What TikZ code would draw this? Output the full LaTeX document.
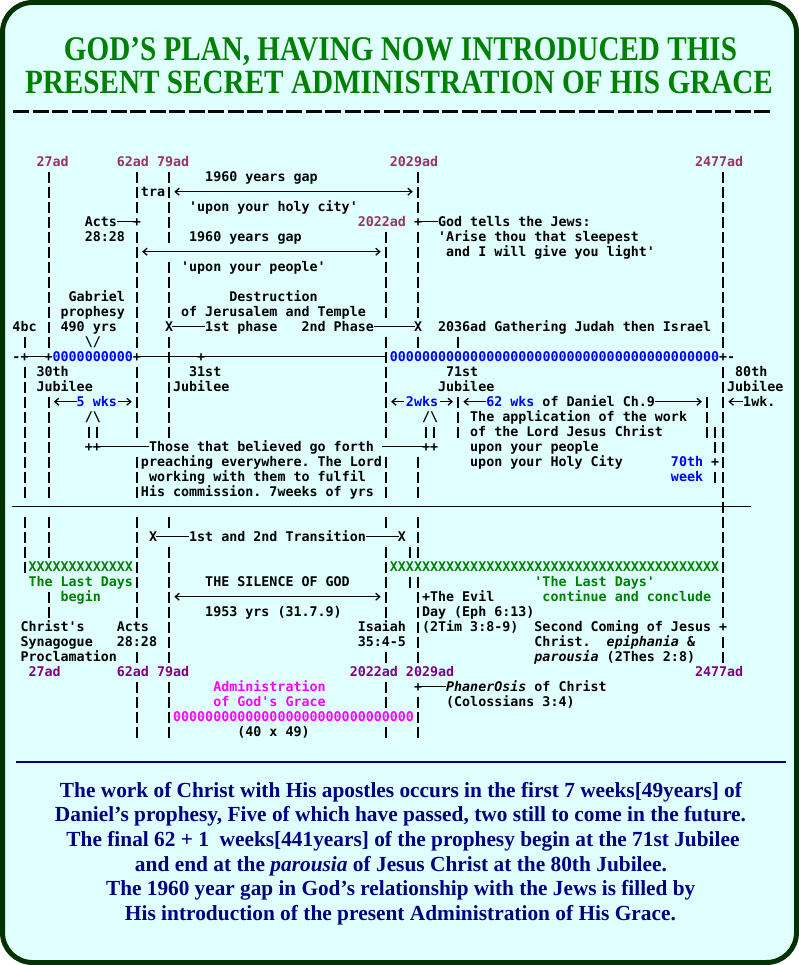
\documentclass[tikz,border=0pt]{standalone}
\usepackage{fontspec}
\usepackage{graphicx}
\usetikzlibrary{arrows.meta}
\newfontfamily\artfont{DejaVu Sans Mono}[WordSpace={1,0,0}]
\newfontfamily\serifb{Liberation Serif}
\definecolor{dtop}{HTML}{993366}
\definecolor{dbot}{HTML}{800080}
\definecolor{abl}{HTML}{0000FF}
\definecolor{agr}{HTML}{008000}
\definecolor{amg}{HTML}{FF00FF}
\definecolor{nav}{HTML}{000080}
\definecolor{frm}{HTML}{003300}
\definecolor{bgc}{HTML}{E0FFFF}
\definecolor{ttl}{HTML}{008000}
\newcommand\artfnt{\artfont\bfseries\fontsize{13.34pt}{15pt}\selectfont\frenchspacing}
\newcommand\botfont{\serifb\bfseries\fontsize{21.5pt}{24pt}\selectfont}
\newcommand\ttlfont{\serifb\bfseries\fontsize{33pt}{36pt}\selectfont}
\newcount\artcnt
\newcommand\ArtT[4][black]{\global\advance\artcnt by 1\relax
  \node[art,text=#1] (t\the\artcnt) at ({12.5+8.03*(#2)},{166.5+15*(#3)}) {#4};}
\newcommand\ArtV[3]{\draw[vbar] ({12.5+8.03*(#1+0.5)},{156.7+15*(#2)}) -- ({12.5+8.03*(#1+0.5)},{167.7+15*(#3)});}
\newcommand\ArtH[4][]{\draw[hl,#1] ({12.5+8.03*(#2)},{161.7+15*(#4)}) -- ({12.5+8.03*(#3)},{161.7+15*(#4)});}
\tikzset{
  art/.style={anchor=base west,inner sep=0pt,outer sep=0pt,font=\artfnt},
  vbar/.style={line width=2pt,dash pattern=on 11pt off 4pt},
  hl/.style={line width=1.3pt},
  >={Straight Barb[length=4pt,width=7pt]}
}
\begin{document}
\begin{tikzpicture}[x=1pt,y=-1pt]
\useasboundingbox (0,0) rectangle (799,965);
\fill[white] (0,0) rectangle (799,965);
\draw[line width=5pt,draw=frm,fill=bgc,rounded corners=30pt] (2.5,2.5) rectangle (796.5,962.5);
% title
\node[anchor=base,text=ttl,inner sep=0pt] (title1) at (400.5,61) {\resizebox{673pt}{23pt}{\ttlfont GOD’S PLAN, HAVING NOW INTRODUCED THIS}};
\node[anchor=base,text=ttl,inner sep=0pt] (title2) at (399,94) {\resizebox{748pt}{22.5pt}{\ttlfont PRESENT SECRET ADMINISTRATION OF HIS GRACE}};
\draw[line width=3pt,dash pattern=on 16pt off 3.5pt] (13,112) -- (773,112);
% ---- art
% row 0
\ArtT[dtop]{3}{0}{27ad}\ArtT[dtop]{13}{0}{62ad}\ArtT[dtop]{18}{0}{79ad}\ArtT[dtop]{47}{0}{2029ad}\ArtT[dtop]{85}{0}{2477ad}
\ArtT{24}{1}{1960 years gap}
\ArtT{16}{2}{tra}\ArtH[<->]{20.15}{49.85}{2}
\ArtT{22}{3}{'upon your holy city'}
\ArtT{9}{4}{Acts}\ArtH{13}{15.5}{4}\ArtT{15}{4}{+}\ArtT[dtop]{43}{4}{2022ad}\ArtT{50}{4}{+}\ArtH{50.5}{53}{4}\ArtT{53}{4}{God tells the Jews:}
\ArtT{9}{5}{28:28}\ArtT{22}{5}{1960 years gap}\ArtT{53}{5}{'Arise thou that sleepest}
\ArtH[<->]{16.15}{45.85}{6}\ArtT{54}{6}{and I will give you light'}
\ArtT{21}{7}{'upon your people'}
\ArtT{7}{9}{Gabriel}\ArtT{27}{9}{Destruction}
\ArtT{6}{10}{prophesy}\ArtT{21}{10}{of Jerusalem and Temple}
\ArtT{0}{11}{4bc}\ArtT{6}{11}{490 yrs}\ArtT{19}{11}{X}\ArtH{19.85}{24}{11}\ArtT{24}{11}{1st phase}\ArtT{36}{11}{2nd Phase}\ArtH{45}{50.15}{11}\ArtT{50}{11}{X}\ArtT{53}{11}{2036ad Gathering Judah then Israel}
\ArtT{9}{12}{\textbackslash/}
\ArtT{0}{13}{-}\ArtT{1}{13}{+}\ArtH{1.5}{4.5}{13}\ArtT{4}{13}{+}\ArtT[abl]{5}{13}{0000000000}\ArtT{15}{13}{+}\ArtH{15.5}{23.5}{13}\ArtT{23}{13}{+}\ArtH{23.5}{46.5}{13}
\ArtT[abl]{47}{13}{00000000000000000000000000000000000000000}\ArtT{88}{13}{+}\ArtT{89}{13}{-}
\ArtT{3}{14}{30th}\ArtT{22}{14}{31st}\ArtT{54}{14}{71st}\ArtT{90}{14}{80th}
\ArtT{3}{15}{Jubilee}\ArtT{20}{15}{Jubilee}\ArtT{53}{15}{Jubilee}\ArtT{89}{15}{Jubilee}
\ArtH[<-]{5.15}{8}{16}\ArtT[abl]{8}{16}{5 wks}\ArtH[->]{13.2}{14.85}{16}
\ArtH[<-]{47.15}{48.8}{16}\ArtT[abl]{49}{16}{2wks}\ArtH[->]{53.2}{54.85}{16}
\ArtH[<-]{56.15}{59}{16}\ArtT[abl]{59}{16}{62 wks}\ArtT{66}{16}{of Daniel Ch.9}\ArtH[->]{80}{85.85}{16}
\ArtH[<-]{89.15}{91}{16}\ArtT{91}{16}{1wk.}
\ArtT{9}{17}{/\textbackslash}\ArtT{51}{17}{/\textbackslash}\ArtT{57}{17}{The application of the work}
\ArtT{57}{18}{of the Lord Jesus Christ}
\ArtT{9}{19}{++}\ArtH{10.5}{17}{19}\ArtT{17}{19}{Those that believed go forth}\ArtH{46}{51.5}{19}\ArtT{51}{19}{++}\ArtT{57}{19}{upon your people}
\ArtT{16}{20}{preaching everywhere. The Lord}\ArtT{57}{20}{upon your Holy City}\ArtT[abl]{82}{20}{70th}\ArtT{87}{20}{+}
\ArtT{17}{21}{working with them to fulfil}\ArtT[abl]{82}{21}{week}
\ArtT{16}{22}{His commission. 7weeks of yrs}
\draw[line width=1.2pt] (12,506.7) -- (750.7,506.7);
\ArtT{17}{25}{X}\ArtH{17.85}{22}{25}\ArtT{22}{25}{1st and 2nd Transition}\ArtH{44}{48.15}{25}\ArtT{48}{25}{X}
\ArtT[agr]{2}{27}{XXXXXXXXXXXXX}\ArtT[agr]{47}{27}{XXXXXXXXXXXXXXXXXXXXXXXXXXXXXXXXXXXXXXXXX}
\ArtT[agr]{2}{28}{The Last Days}\ArtT{24}{28}{THE SILENCE OF GOD}\ArtT[agr]{65}{28}{'The Last Days'}
\ArtT[agr]{6}{29}{begin}\ArtH[<->]{20.15}{45.85}{29}\ArtT{51}{29}{+The Evil}\ArtT[agr]{66}{29}{continue and conclude}
\ArtT{24}{30}{1953 yrs (31.7.9)}\ArtT{51}{30}{Day (Eph 6:13)}
\ArtT{1}{31}{Christ's}\ArtT{13}{31}{Acts}\ArtT{43}{31}{Isaiah}\ArtT{51}{31}{(2Tim 3:8-9)}\ArtT{65}{31}{Second Coming of Jesus}\ArtT{88}{31}{+}
\ArtT{1}{32}{Synagogue}\ArtT{13}{32}{28:28}\ArtT{43}{32}{35:4-5}\ArtT{65}{32}{Christ.}\ArtT{74}{32}{\itshape epiphania}\ArtT{84}{32}{\&}
\ArtT{1}{33}{Proclamation}\ArtT{65}{33}{\itshape parousia}\ArtT{74}{33}{(2Thes 2:8)}
\ArtT[dbot]{2}{34}{27ad}\ArtT[dbot]{13}{34}{62ad}\ArtT[dbot]{18}{34}{79ad}\ArtT[dbot]{42}{34}{2022ad}\ArtT[dbot]{49}{34}{2029ad}\ArtT[dbot]{85}{34}{2477ad}
\ArtT[amg]{25}{35}{Administration}\ArtT{50}{35}{+}\ArtH{50.5}{54}{35}\ArtT{54}{35}{\itshape PhanerOsis}\ArtT{65}{35}{of Christ}
\ArtT[amg]{25}{36}{of God's Grace}\ArtT{54}{36}{(Colossians 3:4)}
\ArtT[amg]{20}{37}{000000000000000000000000000000}
\ArtT{28}{38}{(40 x 49)}
% vertical bars
\ArtV{1}{12}{12}\ArtV{1}{14}{22}\ArtV{1}{24}{27}
\ArtV{4}{1}{12}\ArtV{4}{16}{22}\ArtV{4}{24}{26}\ArtV{4}{29}{30}
\ArtV{9}{18}{18}\ArtV{10}{18}{18}
\ArtV{15}{1}{3}\ArtV{15}{5}{12}\ArtV{15}{14}{18}\ArtV{15}{20}{22}\ArtV{15}{24}{30}\ArtV{15}{33}{33}\ArtV{15}{35}{38}
\ArtV{19}{1}{5}\ArtV{19}{7}{10}\ArtV{19}{12}{18}\ArtV{19}{24}{24}\ArtV{19}{26}{33}\ArtV{19}{35}{38}
\ArtV{46}{5}{10}\ArtV{46}{12}{18}\ArtV{46}{20}{22}\ArtV{46}{24}{24}\ArtV{46}{26}{30}\ArtV{46}{33}{33}\ArtV{46}{35}{36}\ArtV{46}{38}{38}
\ArtV{49}{26}{26}\ArtV{49}{28}{28}
\ArtV{50}{1}{3}\ArtV{50}{5}{10}\ArtV{50}{12}{12}\ArtV{50}{20}{22}\ArtV{50}{24}{26}\ArtV{50}{28}{33}\ArtV{50}{36}{38}
\ArtV{51}{18}{18}\ArtV{52}{18}{18}
\ArtV{55}{12}{12}\ArtV{55}{16}{18}
\ArtV{86}{16}{18}
\ArtV{87}{18}{19}\ArtV{87}{21}{21}
\ArtV{88}{1}{12}\ArtV{88}{14}{30}\ArtV{88}{32}{33}
% navy separator
\draw[nav,line width=2pt] (16.3,762.3) -- (785.7,762.3);
% bottom text
\node[anchor=base,text=nav,inner sep=0pt] (b1) at (401,797) {\resizebox{682pt}{\height}{\botfont The work of Christ with His apostles occurs in the first 7 weeks[49years] of}};
\node[anchor=base,text=nav,inner sep=0pt] (b2) at (400.5,821.7) {\resizebox{691pt}{\height}{\botfont Daniel’s prophesy, Five of which have passed, two still to come in the future.}};
\node[anchor=base,text=nav,inner sep=0pt] (b3) at (403,846.3) {\resizebox{673pt}{\height}{\botfont The final 62 + 1\ \ weeks[441years] of the prophesy begin at the 71st Jubilee}};
\node[anchor=base,text=nav,inner sep=0pt] (b4) at (401,871) {\resizebox{532pt}{\height}{\botfont and end at the \textit{parousia} of Jesus Christ at the 80th Jubilee.}};
\node[anchor=base,text=nav,inner sep=0pt] (b5) at (400.7,895.7) {\resizebox{589pt}{\height}{\botfont The 1960 year gap in God’s relationship with the Jews is filled by}};
\node[anchor=base,text=nav,inner sep=0pt] (b6) at (400.5,920.3) {\resizebox{551pt}{\height}{\botfont His introduction of the present Administration of His Grace.}};
\end{tikzpicture}
\end{document}
